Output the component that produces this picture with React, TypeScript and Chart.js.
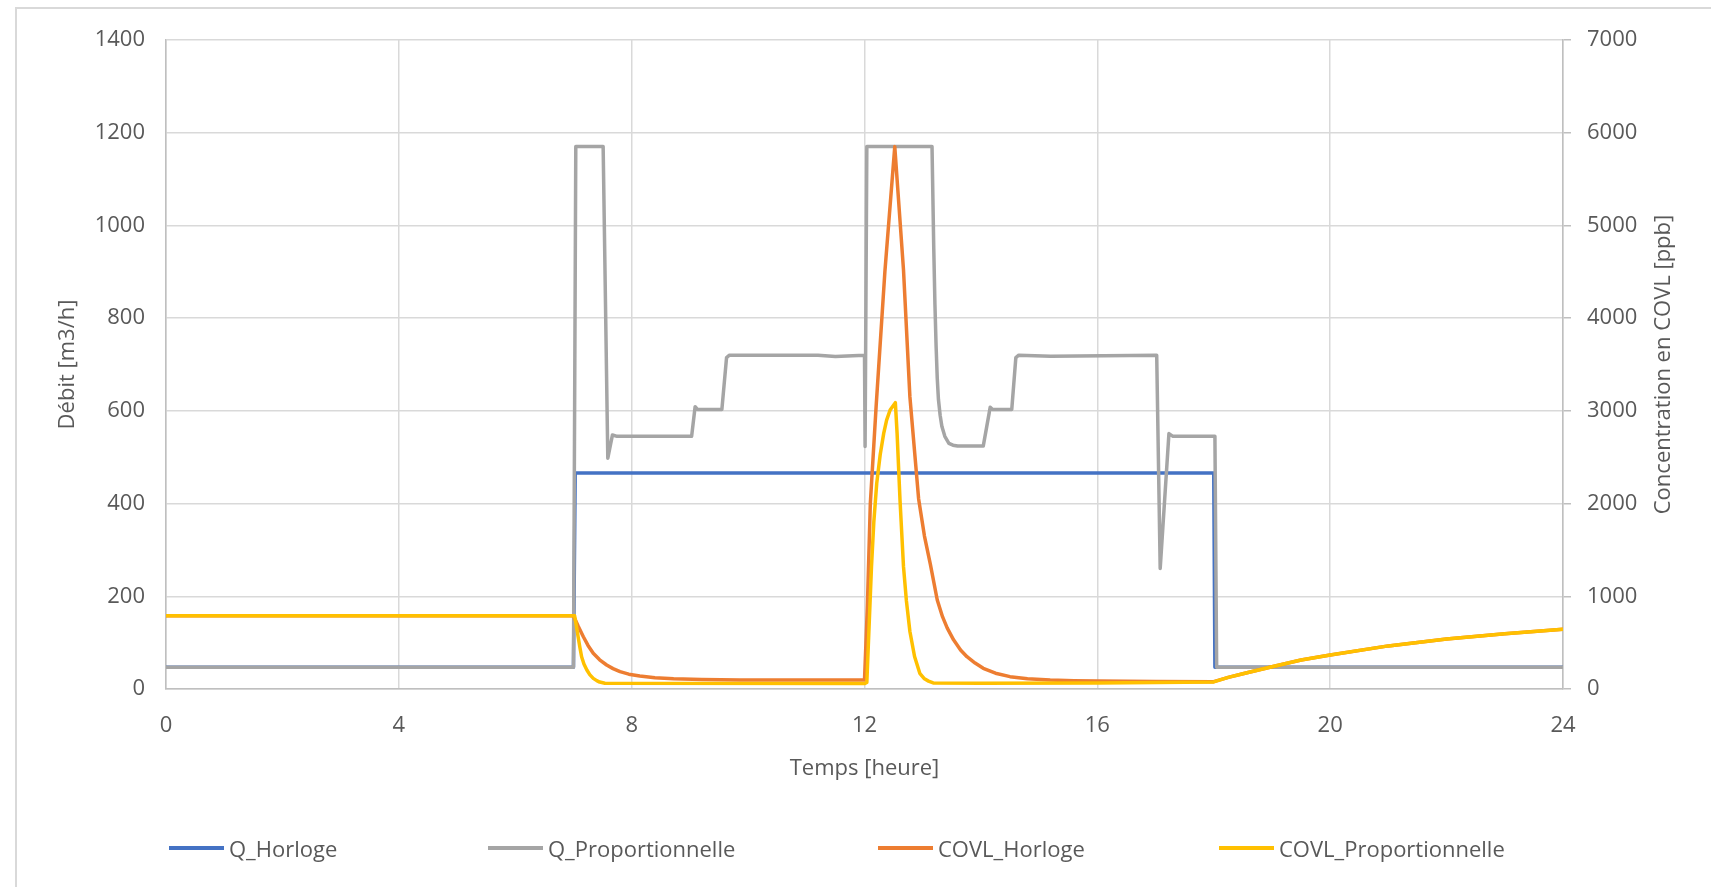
import React, { useEffect, useRef } from "react";
import { Chart, registerables } from "chart.js";

Chart.register(...registerables);

// ---- Data ----
const xTicks = [0, 4, 8, 12, 16, 20, 24];

const qHorlogeT = [0, 7.0, 7.03, 18.0, 18.02, 24];
const qHorlogeV = [47, 47, 466, 466, 47, 47];

const qPropT = [0, 7.0, 7.04, 7.51, 7.59, 7.67, 7.75, 9.03, 9.09, 9.13, 9.55, 9.63, 9.68, 11.2, 11.5, 12.0, 12.01, 12.04, 13.16, 13.19, 13.21, 13.23, 13.25, 13.27, 13.3, 13.33, 13.38, 13.45, 13.52, 13.6, 14.04, 14.1, 14.16, 14.2, 14.53, 14.6, 14.65, 15.2, 17.02, 17.08, 17.23, 17.3, 18.02, 18.05, 24];
const qPropV = [47, 47, 1170, 1170, 498, 548, 545, 545, 609, 603, 603, 715, 720, 720, 717, 720, 523, 1170, 1170, 950, 830, 740, 670, 625, 590, 566, 545, 530, 526, 524, 524, 566, 608, 603, 603, 715, 720, 718, 720, 260, 551, 545, 545, 47, 47];

const covlHorlogeT = [0, 7.0, 7.08, 7.17, 7.25, 7.34, 7.45, 7.57, 7.68, 7.8, 7.95, 8.14, 8.4, 8.72, 9.2, 9.86, 12.0, 12.05, 12.1, 12.2, 12.35, 12.52, 12.67, 12.78, 12.93, 13.03, 13.13, 13.25, 13.34, 13.42, 13.53, 13.65, 13.76, 13.9, 14.04, 14.25, 14.5, 14.8, 15.19, 15.6, 16.0, 17.0, 18.0, 18.25, 18.5, 19.0, 19.5, 20.0, 21.0, 22.0, 23.0, 24.0];
const covlHorlogeV = [790, 790, 680, 564, 470, 385, 315, 259, 220, 187, 160, 140, 122, 111, 102, 97, 97, 900, 2000, 3050, 4500, 5850, 4520, 3150, 2050, 1650, 1350, 960, 780, 660, 530, 421, 348, 280, 223, 170, 133, 110, 97, 90, 86, 82, 79, 125, 165, 240, 313, 367, 465, 540, 597, 645];

const covlPropT = [0, 7.02, 7.05, 7.08, 7.11, 7.14, 7.18, 7.23, 7.28, 7.34, 7.4, 7.45, 7.54, 12.0, 12.04, 12.12, 12.16, 12.21, 12.27, 12.33, 12.38, 12.44, 12.53, 12.56, 12.61, 12.67, 12.72, 12.78, 12.86, 12.95, 13.03, 13.1, 13.18, 14.0, 16.0, 18.0, 18.25, 18.5, 19.0, 19.5, 20.0, 21.0, 22.0, 23.0, 24.0];
const covlPropV = [790, 790, 680, 564, 450, 348, 270, 205, 155, 115, 90, 75, 62, 58, 70, 1319, 1800, 2218, 2530, 2757, 2900, 3009, 3088, 2757, 2038, 1319, 950, 620, 350, 169, 110, 85, 65, 62, 66, 76, 125, 165, 240, 313, 367, 465, 540, 597, 645];

const seriesNames = ["Q_Horloge", "Q_Proportionnelle", "COVL_Horloge", "COVL_Proportionnelle"];
const seriesColors = ["#4472C4", "#A5A5A5", "#ED7D31", "#FFC000"];

const leftTitle = "Débit [m3/h]";
const rightTitle = "Concentration en COVL [ppb]";
const xTitle = "Temps [heure]";

const FONT = "'Open Sans', 'DejaVu Sans', sans-serif";
const TEXT = "#595959";

const toXY = (t: number[], v: number[]) => t.map((x, i) => ({ x, y: v[i] }));

const rightTitlePlugin = {
  id: "rightTitle",
  afterDraw(chart: any) {
    const s = chart.scales.y2;
    const ctx = chart.ctx;
    ctx.save();
    ctx.translate(s.right - 17, (chart.chartArea.top + chart.chartArea.bottom) / 2);
    ctx.rotate(-Math.PI / 2);
    ctx.textAlign = "center";
    ctx.textBaseline = "middle";
    ctx.font = `22px ${FONT}`;
    ctx.fillStyle = TEXT;
    ctx.fillText(rightTitle, 0, 0);
    ctx.restore();
  },
};

export default function App() {
  const ref = useRef<HTMLCanvasElement | null>(null);

  useEffect(() => {
    if (!ref.current) return;
    const fontOpt = { family: FONT, size: 22 };
    const plain = (v: any) => String(v);
    const chart = new Chart(ref.current, {
      type: "line",
      data: {
        datasets: [
          { label: seriesNames[0], data: toXY(qHorlogeT, qHorlogeV), borderColor: seriesColors[0], yAxisID: "y", order: 3 },
          { label: seriesNames[1], data: toXY(qPropT, qPropV), borderColor: seriesColors[1], yAxisID: "y", order: 2 },
          { label: seriesNames[2], data: toXY(covlHorlogeT, covlHorlogeV), borderColor: seriesColors[2], yAxisID: "y2", order: 1 },
          { label: seriesNames[3], data: toXY(covlPropT, covlPropV), borderColor: seriesColors[3], yAxisID: "y2", order: 0 },
        ].map((d) => ({ ...d, borderWidth: 3.5, pointRadius: 0, tension: 0, fill: false, borderJoinStyle: "round" as const })),
      },
      options: {
        responsive: false,
        animation: false,
        layout: { padding: { left: 51, right: 30, top: 40, bottom: 101 } },
        plugins: { legend: { display: false }, tooltip: { enabled: false } },
        scales: {
          x: {
            type: "linear",
            min: 0,
            max: 24,
            afterBuildTicks: (s: any) => { s.ticks = xTicks.map((v) => ({ value: v })); },
            afterFit: (s: any) => { s.height = 97; },
            grid: { color: "#d9d9d9", lineWidth: 1.5, drawTicks: false },
            border: { color: "#bfbfbf", width: 1.5 },
            ticks: { color: TEXT, font: fontOpt, padding: 24, maxRotation: 0, callback: plain },
            title: { display: true, text: xTitle, color: TEXT, font: fontOpt },
          },
          y: {
            position: "left",
            min: 0,
            max: 1400,
            afterFit: (s: any) => { s.width = 115; },
            grid: { color: "#d9d9d9", lineWidth: 1.5, drawTicks: false },
            border: { color: "#bfbfbf", width: 1.5 },
            ticks: { stepSize: 200, color: TEXT, font: fontOpt, padding: 21, callback: plain },
            title: { display: true, text: leftTitle, color: TEXT, font: fontOpt },
          },
          y2: {
            position: "right",
            min: 0,
            max: 7000,
            afterFit: (s: any) => { s.width = 118; },
            grid: { drawOnChartArea: false, drawTicks: true, tickLength: 8, tickColor: "#bfbfbf", lineWidth: 1.5 },
            border: { color: "#bfbfbf", width: 1.5 },
            ticks: { stepSize: 1000, color: TEXT, font: fontOpt, padding: 16, callback: plain },
            title: { display: false },
          },
        },
      },
      plugins: [rightTitlePlugin],
    });
    return () => chart.destroy();
  }, []);

  const legendPos = [169, 488, 878, 1219];

  return (
    <div style={{ position: "fixed", left: 0, top: 0, width: 1711, height: 887, background: "#fff", overflow: "hidden" }}>
      <div style={{ position: "absolute", left: 15, top: 7, width: 1800, height: 1000, borderLeft: "2px solid #d9d9d9", borderTop: "2px solid #d9d9d9" }} />
      <canvas ref={ref} width={1711} height={887} style={{ position: "absolute", left: 0, top: 0 }} />
      {seriesNames.map((name, i) => (
        <div key={name} style={{ position: "absolute", left: legendPos[i], top: 832, height: 32, display: "flex", alignItems: "center", fontFamily: FONT, fontSize: 22, color: TEXT, whiteSpace: "nowrap" }}>
          <span style={{ display: "inline-block", width: 55, height: 4, background: seriesColors[i], marginRight: 5 }} />
          <span>{name}</span>
        </div>
      ))}
    </div>
  );
}
